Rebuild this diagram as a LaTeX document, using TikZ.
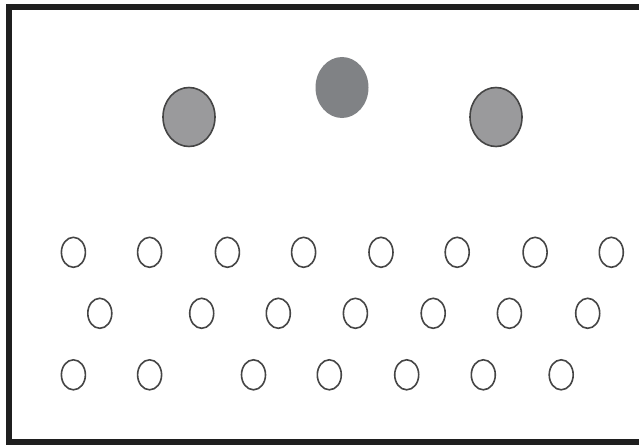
\documentclass[tikz,border=0pt]{standalone}
\usetikzlibrary{shapes.geometric}
\definecolor{outl}{HTML}{454545}
\definecolor{greyA}{HTML}{9A9A9C}
\definecolor{greyB}{HTML}{808285}
\tikzset{
  smallcirc/.style={ellipse, draw=outl, line width=1.6pt, fill=white, inner sep=0pt, minimum width=24pt, minimum height=30pt},
  bigside/.style={ellipse, draw=outl, line width=1.6pt, fill=greyA, inner sep=0pt, minimum width=52pt, minimum height=59pt},
  bigmid/.style={ellipse, draw=none, fill=greyB, inner sep=0pt, minimum width=53pt, minimum height=61pt},
  frameline/.style={draw=black!88, line width=6pt}
}
\begin{document}
\begin{tikzpicture}[x=1pt,y=-1pt]
\useasboundingbox (0,0) rectangle (639,444);
\fill[white] (0,0) rectangle (639,444);
\draw[frameline] (9,7.5) rectangle (660,442);
\node[bigside] (gl) at (189,117) {};
\node[bigmid] (gm) at (342,87.5) {};
\node[bigside] (gr) at (496,117) {};
\foreach \x [count=\i] in {73.4,149.6,227.4,303.6,381,457.2,535.1,611.3}
  \node[smallcirc] (a\i) at (\x,252.3) {};
\foreach \x [count=\i] in {99.8,201.7,278.3,355.4,433.2,509.4,587.7}
  \node[smallcirc] (b\i) at (\x,313.3) {};
\foreach \x [count=\i] in {73.4,149.6,253.5,329.3,406.7,483.3,561.2}
  \node[smallcirc] (c\i) at (\x,374.8) {};
\end{tikzpicture}
\end{document}
